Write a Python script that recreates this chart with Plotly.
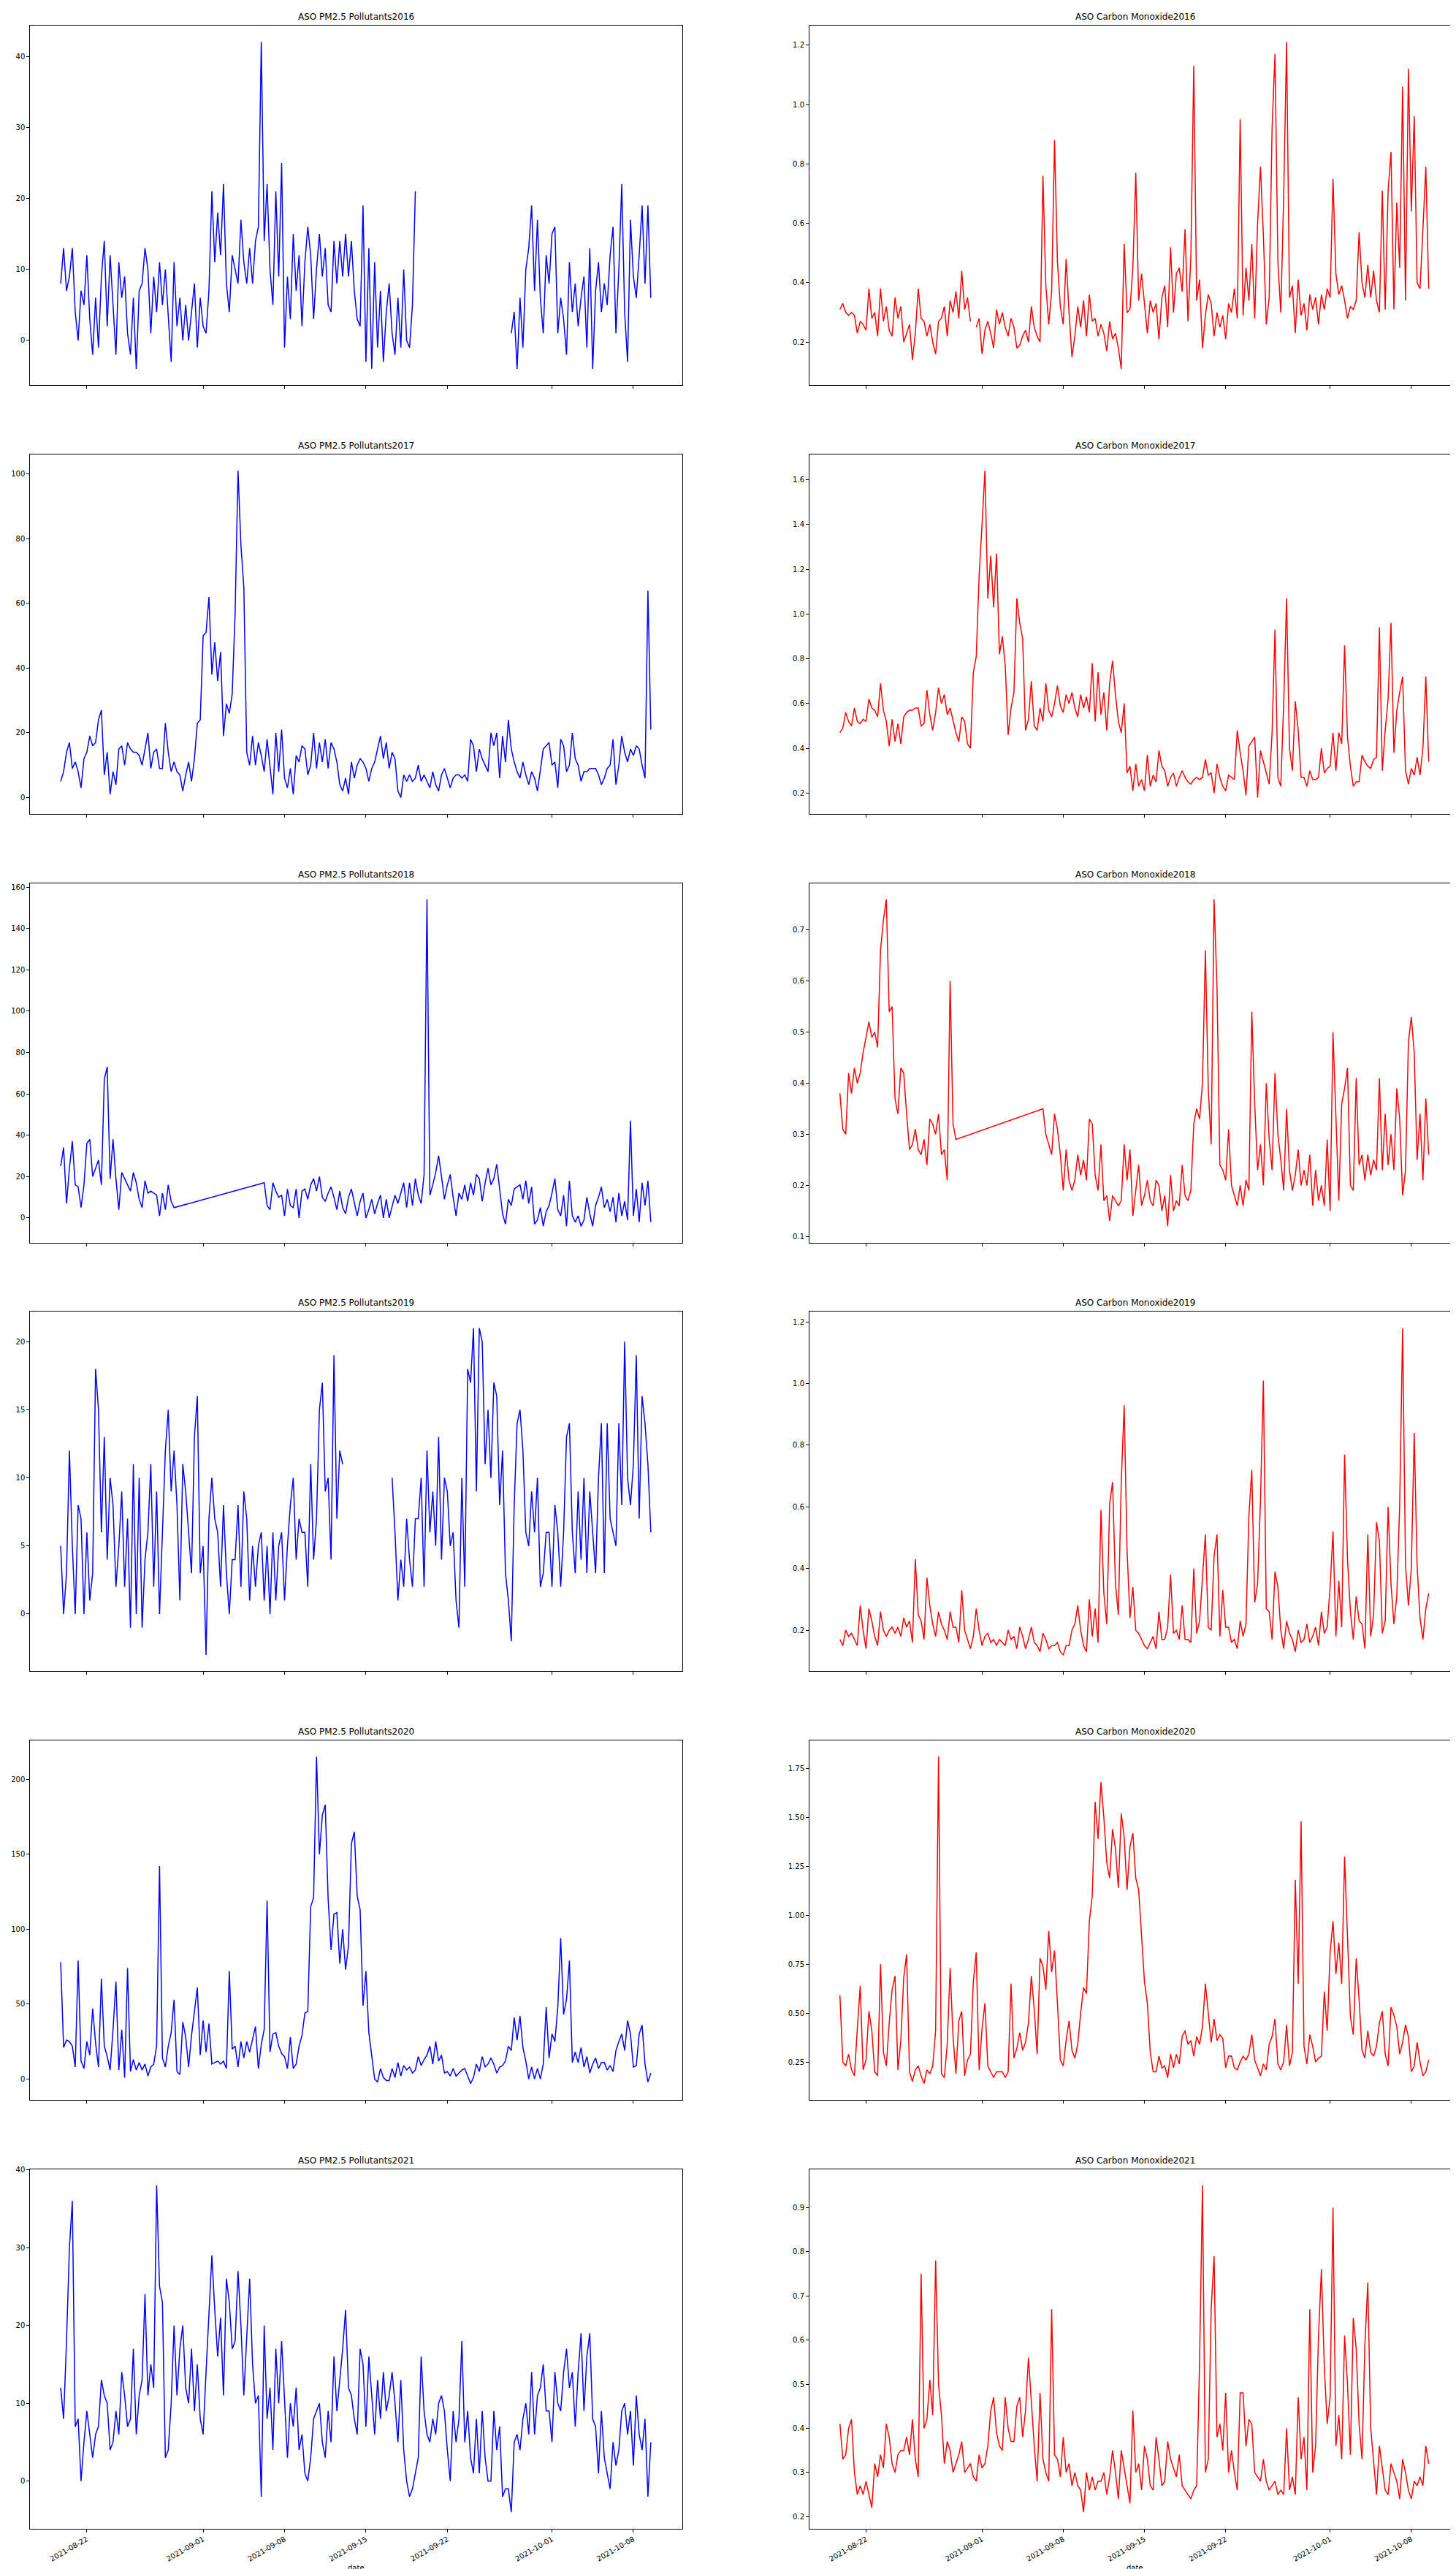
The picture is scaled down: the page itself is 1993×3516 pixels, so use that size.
import pandas as pd
import plotly.graph_objects as go

# ---------------- data (6-hourly readings, first at 2021-08-19 18:00) ----------------
START = "2021-08-19 18:00"
STEP = "6h"

pm25_2016 = [8, 13, 7, 9, 13, 4, 0, 7, 5, 12, 3, -2, 6, -1, 9, 14, 2, 12, 5, -2, 11, 6, 9, 1,
             -2, 6, -4, 7, 8, 13, 10, 1, 9, 4, 11, 5, 10, 3, -3, 11, 2, 6, 0, 5, 0, 4, 8, -1,
             6, 2, 1, 7, 21, 11, 18, 12, 22, 8, 4, 12, 10, 8, 17, 11, 8, 13, 8, 14, 16, 42, 14, 22,
             10, 5, 21, 9, 25, -1, 9, 3, 15, 7, 12, 2, 11, 16, 12, 3, 10, 15, 9, 13, 5, 4, 14, 8,
             14, 9, 15, 9, 14, 7, 3, 2, 19, -3, 13, -4, 11, -1, 7, -3, 4, 8, 1, -2, 6, -1, 10, 0,
             -1, 5, 21] + [None] * 32 + [
             1, 4, -4, 6, -1, 10, 13, 19, 7, 17, 6, 1, 12, 8, 15, 16, 1, 6, 3, -2, 11, 4, 8, 2, 6,
             9, -1, 13, -4, 7, 11, 4, 8, 5, 12, 16, 1, 10, 22, 4, -3, 17, 9, 6, 12, 19, 8, 19, 6]

co_2016 = [0.31, 0.33, 0.30, 0.29, 0.30, 0.29, 0.23, 0.27, 0.26, 0.24, 0.38, 0.28,
           0.30, 0.22, 0.38, 0.27, 0.32, 0.24, 0.22, 0.35, 0.28, 0.32, 0.20, 0.23,
           0.26, 0.14, 0.23, 0.38, 0.28, 0.27, 0.22, 0.26, 0.20, 0.16, 0.27, 0.28,
           0.32, 0.22, 0.34, 0.30, 0.37, 0.28, 0.44, 0.31, 0.35, 0.27, None, 0.25,
           0.28, 0.16, 0.24, 0.27, 0.23, 0.18, 0.31, 0.26, 0.30, 0.25, 0.22, 0.28,
           0.25, 0.18, 0.19, 0.22, 0.24, 0.20, 0.32, 0.25, 0.22, 0.20, 0.76, 0.39,
           0.26, 0.37, 0.88, 0.47, 0.32, 0.26, 0.48, 0.30, 0.15, 0.22, 0.32, 0.25,
           0.34, 0.22, 0.36, 0.27, 0.28, 0.22, 0.26, 0.23, 0.17, 0.27, 0.21, 0.23,
           0.18, 0.11, 0.53, 0.30, 0.31, 0.45, 0.77, 0.34, 0.43, 0.33, 0.23, 0.34,
           0.30, 0.33, 0.21, 0.35, 0.39, 0.25, 0.52, 0.30, 0.43, 0.45, 0.37, 0.58,
           0.27, 0.49, 1.13, 0.34, 0.41, 0.18, 0.29, 0.36, 0.33, 0.22, 0.30, 0.25,
           0.29, 0.21, 0.33, 0.30, 0.38, 0.28, 0.95, 0.29, 0.45, 0.34, 0.53, 0.28,
           0.60, 0.79, 0.56, 0.26, 0.35, 0.92, 1.17, 0.47, 0.30, 0.69, 1.21, 0.35,
           0.39, 0.23, 0.41, 0.29, 0.33, 0.24, 0.36, 0.31, 0.35, 0.26, 0.36, 0.31,
           0.38, 0.35, 0.75, 0.43, 0.36, 0.39, 0.34, 0.28, 0.32, 0.31, 0.34, 0.57,
           0.40, 0.35, 0.46, 0.35, 0.44, 0.34, 0.30, 0.71, 0.31, 0.71, 0.84, 0.31,
           0.67, 0.45, 1.06, 0.34, 1.12, 0.64, 0.96, 0.40, 0.38, 0.58, 0.79, 0.38]

pm25_2017 = [5, 8, 14, 17, 9, 11, 8, 3, 12, 14, 19, 16, 17, 24, 27, 7, 14, 1, 8, 4, 15, 16, 10, 17,
             15, 14, 14, 13, 10, 15, 20, 9, 14, 15, 9, 9, 23, 14, 8, 11, 8, 7, 2, 7, 11, 5, 12, 23,
             24, 50, 51, 62, 38, 48, 36, 45, 19, 29, 26, 32, 57, 101, 78, 65, 14, 10, 19, 10,
             17, 13, 8, 18, 9, 1, 20, 8, 21, 6, 3, 9, 1, 13, 11, 16, 15, 7, 10, 20, 9, 17, 11, 18,
             9, 17, 15, 11, 4, 2, 6, 1, 11, 6, 10, 12, 11, 9, 5, 9, 11, 15, 19, 12, 17, 9, 14, 12,
             2, 0, 7, 5, 7, 5, 6, 10, 5, 7, 5, 3, 8, 4, 2, 7, 9, 6, 3, 6, 7, 7, 6, 7, 5, 18, 16, 8,
             15, 12, 10, 8, 20, 16, 20, 6, 19, 11, 24, 15, 11, 8, 6, 11, 7, 4, 8, 6, 2, 8, 15, 16,
             17, 10, 11, 3, 18, 16, 8, 10, 20, 12, 10, 5, 8, 8, 9, 9, 9, 7, 4, 6, 9, 10, 18, 4,
             10, 19, 14, 11, 15, 13, 16, 15, 10, 6, 64, 21]

co_2017 = [0.47, 0.49, 0.56, 0.52, 0.50, 0.58, 0.52, 0.51, 0.53, 0.52, 0.62, 0.58,
           0.57, 0.54, 0.69, 0.57, 0.52, 0.41, 0.53, 0.43, 0.51, 0.42, 0.54, 0.56,
           0.57, 0.57, 0.58, 0.58, 0.50, 0.51, 0.66, 0.55, 0.48, 0.56, 0.67, 0.60,
           0.64, 0.55, 0.58, 0.52, 0.47, 0.43, 0.54, 0.52, 0.42, 0.40, 0.74, 0.81,
           1.17, 1.40, 1.64, 1.07, 1.26, 1.03, 1.27, 0.82, 0.90, 0.77, 0.46, 0.58,
           0.65, 1.07, 0.96, 0.89, 0.48, 0.53, 0.70, 0.50, 0.48, 0.58, 0.52, 0.69,
           0.57, 0.54, 0.60, 0.68, 0.59, 0.56, 0.64, 0.60, 0.65, 0.58, 0.54, 0.64,
           0.58, 0.63, 0.56, 0.78, 0.52, 0.74, 0.55, 0.65, 0.48, 0.69, 0.79, 0.64,
           0.52, 0.47, 0.60, 0.29, 0.32, 0.21, 0.33, 0.23, 0.26, 0.21, 0.37, 0.23,
           0.28, 0.25, 0.39, 0.32, 0.30, 0.23, 0.27, 0.29, 0.23, 0.27, 0.30, 0.27,
           0.25, 0.24, 0.26, 0.27, 0.26, 0.27, 0.35, 0.28, 0.29, 0.20, 0.33, 0.27,
           0.23, 0.21, 0.28, 0.27, 0.26, 0.48, 0.38, 0.30, 0.19, 0.41, 0.43, 0.45,
           0.18, 0.39, 0.34, 0.29, 0.24, 0.47, 0.93, 0.27, 0.23, 0.60, 1.07, 0.40,
           0.30, 0.61, 0.48, 0.27, 0.27, 0.23, 0.30, 0.26, 0.26, 0.27, 0.40, 0.29,
           0.31, 0.32, 0.47, 0.30, 0.47, 0.42, 0.86, 0.45, 0.32, 0.23, 0.25, 0.25,
           0.37, 0.34, 0.32, 0.31, 0.35, 0.36, 0.94, 0.30, 0.48, 0.62, 0.96, 0.38,
           0.57, 0.65, 0.72, 0.30, 0.24, 0.31, 0.28, 0.36, 0.28, 0.40, 0.72, 0.34]

pm25_2018 = [25, 34, 7, 24, 37, 16, 15, 5, 16, 36, 38, 20, 24, 28, 16, 67, 73, 19, 38, 19,
             4, 22, 19, 16, 13, 22, 17, 9, 5, 18, 12, 13, 12, 11, 1, 12, 4, 16, 8, 5] + [None] * 30 + [
             17, 6, 4, 17, 13, 10, 11, 1, 14, 6, 5, 14, 0, 13, 14, 9, 16, 19, 13, 20, 10, 8,
             12, 15, 10, 4, 13, 5, 2, 10, 14, 7, 1, 8, 12, 0, 4, 9, 2, 7, 11, 0, 9, 0, 6, 11,
             7, 12, 17, 5, 17, 6, 19, 11, 7, 21, 154, 11, 16, 22, 30, 20, 9, 16, 21, 10,
             1, 12, 9, 16, 8, 17, 11, 21, 19, 8, 17, 24, 16, 19, 26, 14, 2, -3, 9, 6,
             14, 15, 16, 9, 18, 7, 15, -3, -1, 5, -4, 3, 6, 12, 19, 4, 1, 11, -4, 18,
             1, -2, 1, -4, -1, 10, 2, -4, 6, 10, 15, 5, 9, 3, 10, -2, 12, 1, 8, -1,
             47, 1, 14, -2, 17, 6, 18, -2]

co_2018 = [0.38, 0.31, 0.30, 0.42, 0.38, 0.43, 0.40, 0.42, 0.46, 0.49, 0.52, 0.49,
           0.50, 0.47, 0.66, 0.72, 0.76, 0.54, 0.55, 0.37, 0.34, 0.43, 0.42, 0.34,
           0.27, 0.28, 0.31, 0.27, 0.26, 0.29, 0.24, 0.33, 0.32, 0.30, 0.34, 0.26,
           0.27, 0.21, 0.60, 0.32, 0.29] + [None] * 29 + [
           0.35, 0.30, 0.28, 0.26, 0.34, 0.31, 0.26, 0.19, 0.27, 0.21, 0.19, 0.21, 0.26, 0.22,
           0.25, 0.21, 0.33, 0.32, 0.22, 0.19, 0.28, 0.17, 0.18, 0.13, 0.18, 0.17,
           0.16, 0.17, 0.28, 0.21, 0.27, 0.14, 0.19, 0.24, 0.16, 0.18, 0.21, 0.17,
           0.16, 0.21, 0.20, 0.15, 0.18, 0.12, 0.22, 0.15, 0.17, 0.16, 0.24, 0.18,
           0.17, 0.19, 0.32, 0.35, 0.33, 0.40, 0.66, 0.39, 0.28, 0.76, 0.59, 0.24,
           0.23, 0.21, 0.31, 0.20, 0.18, 0.16, 0.20, 0.16, 0.21, 0.19, 0.54, 0.36,
           0.23, 0.28, 0.20, 0.40, 0.29, 0.23, 0.42, 0.30, 0.25, 0.19, 0.35, 0.23,
           0.19, 0.22, 0.27, 0.20, 0.23, 0.20, 0.26, 0.16, 0.23, 0.17, 0.20, 0.16,
           0.29, 0.15, 0.50, 0.32, 0.17, 0.36, 0.39, 0.43, 0.20, 0.19, 0.41, 0.24,
           0.26, 0.21, 0.26, 0.22, 0.25, 0.23, 0.41, 0.23, 0.34, 0.24, 0.30, 0.23,
           0.39, 0.33, 0.18, 0.23, 0.48, 0.53, 0.46, 0.25, 0.34, 0.21, 0.37, 0.26]

pm25_2019 = [5, 0, 3, 12, 5, 0, 8, 7, 0, 6, 1, 3, 18, 15, 6, 13, 4, 10, 8, 2, 5, 9, 2, 7,
             -1, 11, 0, 10, -1, 4, 6, 11, 2, 9, 0, 6, 12, 15, 9, 12, 8, 1, 11, 9, 6, 3, 13, 16,
             3, 5, -3, 7, 10, 7, 6, 2, 8, 3, 0, 4, 4, 8, 2, 9, 7, 1, 5, 2, 5, 6, 1, 5,
             0, 6, 1, 5, 6, 1, 5, 8, 10, 4, 7, 6, 6, 2, 11, 4, 7, 15, 17, 9, 10, 4, 19, 7,
             12, 11] + [None] * 16 + [
             10, 6, 1, 4, 2, 7, 4, 2, 7, 7, 10, 2, 12, 6, 9, 5, 13, 4, 10, 9, 5, 6,
             1, -1, 10, 2, 18, 17, 21, 9, 21, 20, 11, 15, 10, 17, 16, 8, 12, 3, 1, -2,
             8, 14, 15, 12, 6, 5, 9, 6, 10, 2, 3, 6, 6, 2, 8, 6, 2, 6, 13, 14,
             6, 3, 9, 4, 10, 3, 9, 6, 3, 10, 14, 3, 14, 7, 6, 5, 14, 8, 20, 10,
             8, 11, 19, 7, 16, 14, 11, 6]

co_2019 = [0.17, 0.15, 0.20, 0.18, 0.19, 0.17, 0.15, 0.28, 0.20, 0.14, 0.27, 0.23,
           0.18, 0.15, 0.26, 0.20, 0.18, 0.20, 0.21, 0.19, 0.21, 0.18, 0.24, 0.21,
           0.23, 0.16, 0.43, 0.25, 0.23, 0.17, 0.37, 0.28, 0.22, 0.18, 0.26, 0.22,
           0.20, 0.17, 0.26, 0.21, 0.21, 0.16, 0.33, 0.20, 0.17, 0.14, 0.18, 0.27,
           0.20, 0.15, 0.18, 0.19, 0.16, 0.17, 0.15, 0.17, 0.16, 0.15, 0.20, 0.17,
           0.18, 0.14, 0.21, 0.18, 0.14, 0.17, 0.21, 0.16, 0.15, 0.13, 0.19, 0.17,
           0.14, 0.15, 0.15, 0.16, 0.13, 0.12, 0.15, 0.15, 0.20, 0.22, 0.28, 0.20,
           0.15, 0.13, 0.30, 0.18, 0.27, 0.16, 0.59, 0.32, 0.22, 0.61, 0.68, 0.35,
           0.25, 0.68, 0.93, 0.46, 0.24, 0.34, 0.20, 0.19, 0.17, 0.15, 0.14, 0.16,
           0.18, 0.14, 0.26, 0.17, 0.17, 0.21, 0.38, 0.19, 0.20, 0.17, 0.28, 0.17,
           0.17, 0.16, 0.40, 0.19, 0.23, 0.37, 0.51, 0.21, 0.20, 0.44, 0.51, 0.18,
           0.33, 0.21, 0.21, 0.16, 0.17, 0.14, 0.23, 0.18, 0.22, 0.57, 0.72, 0.29,
           0.35, 0.62, 1.01, 0.27, 0.26, 0.17, 0.39, 0.34, 0.20, 0.14, 0.23, 0.19,
           0.17, 0.13, 0.20, 0.16, 0.17, 0.22, 0.16, 0.18, 0.21, 0.15, 0.26, 0.19,
           0.21, 0.34, 0.52, 0.18, 0.36, 0.21, 0.77, 0.43, 0.26, 0.17, 0.31, 0.23,
           0.22, 0.14, 0.51, 0.18, 0.25, 0.55, 0.49, 0.19, 0.23, 0.60, 0.35, 0.22,
           0.31, 0.61, 1.18, 0.41, 0.28, 0.40, 0.84, 0.41, 0.24, 0.17, 0.27, 0.32]

pm25_2020 = [78, 21, 26, 25, 22, 8, 79, 12, 7, 25, 16, 47, 24, 8, 67, 22, 15, 6, 33, 65,
             6, 33, 1, 74, 5, 13, 6, 11, 6, 10, 2, 8, 10, 22, 142, 14, 8, 22, 31, 53,
             5, 3, 38, 28, 8, 29, 45, 61, 16, 39, 18, 37, 10, 11, 12, 10, 12, 7, 72, 20,
             22, 8, 25, 14, 25, 18, 26, 35, 7, 23, 33, 119, 18, 30, 31, 22, 17, 15, 7, 28,
             7, 10, 22, 29, 44, 45, 115, 121, 215, 150, 176, 183, 120, 86, 110, 111,
             77, 100, 73, 89, 157, 165, 122, 113, 49, 72, 31, 15, 0, -2, 7, 1, -1, -1, 7, 1,
             11, 2, 9, 6, 8, 4, 6, 15, 9, 13, 16, 22, 10, 25, 12, 16, 4, 5, 2, 7, 2, 4, 6, 7,
             2, -3, 1, 10, 5, 15, 8, 10, 14, 10, 4, 8, 9, 12, 22, 19, 41, 26, 42, 21,
             12, 0, 8, 0, 7, 0, 10, 48, 14, 30, 25, 48, 94, 43, 53, 79, 11, 18, 11, 21,
             8, 15, 4, 10, 14, 7, 11, 11, 6, 9, 5, 19, 25, 30, 19, 39, 30, 8, 9, 30,
             36, 10, -2, 4]

co_2020 = [0.59, 0.25, 0.23, 0.29, 0.21, 0.18, 0.42, 0.64, 0.21, 0.26, 0.51, 0.41,
           0.20, 0.18, 0.75, 0.30, 0.23, 0.45, 0.62, 0.69, 0.21, 0.36, 0.68, 0.80,
           0.20, 0.15, 0.21, 0.23, 0.18, 0.14, 0.21, 0.19, 0.23, 0.41, 1.81, 0.19,
           0.17, 0.34, 0.73, 0.38, 0.19, 0.46, 0.51, 0.18, 0.26, 0.29, 0.66, 0.81,
           0.21, 0.42, 0.55, 0.23, 0.20, 0.17, 0.20, 0.20, 0.20, 0.17, 0.20, 0.65,
           0.27, 0.32, 0.40, 0.31, 0.35, 0.45, 0.69, 0.52, 0.29, 0.78, 0.74, 0.62,
           0.92, 0.71, 0.82, 0.55, 0.26, 0.23, 0.36, 0.46, 0.31, 0.27, 0.34, 0.50,
           0.63, 0.60, 0.97, 1.10, 1.58, 1.39, 1.68, 1.50, 1.27, 1.19, 1.44, 1.34,
           1.14, 1.52, 1.40, 1.13, 1.35, 1.42, 1.19, 1.13, 0.90, 0.66, 0.55, 0.30,
           0.20, 0.20, 0.28, 0.22, 0.23, 0.17, 0.29, 0.22, 0.29, 0.24, 0.38, 0.41,
           0.34, 0.36, 0.28, 0.38, 0.34, 0.43, 0.65, 0.49, 0.35, 0.47, 0.36, 0.39,
           0.37, 0.22, 0.28, 0.28, 0.22, 0.21, 0.25, 0.28, 0.26, 0.29, 0.39, 0.26,
           0.22, 0.18, 0.24, 0.21, 0.34, 0.38, 0.47, 0.24, 0.21, 0.25, 0.44, 0.23,
           0.30, 1.18, 0.65, 1.48, 0.33, 0.24, 0.39, 0.33, 0.25, 0.27, 0.28, 0.61,
           0.41, 0.81, 0.97, 0.70, 0.86, 0.65, 1.30, 0.87, 0.48, 0.39, 0.78, 0.57,
           0.31, 0.27, 0.41, 0.30, 0.28, 0.33, 0.45, 0.51, 0.29, 0.23, 0.53, 0.49,
           0.43, 0.29, 0.35, 0.44, 0.38, 0.20, 0.23, 0.35, 0.25, 0.18, 0.20, 0.26]

pm25_2021 = [12, 8, 18, 30, 36, 7, 8, 0, 5, 9, 6, 3, 6, 7, 13, 11, 10, 4, 5, 9, 6, 14, 11, 7,
             8, 17, 6, 11, 13, 24, 11, 15, 12, 38, 25, 23, 3, 4, 10, 20, 11, 17, 20, 12,
             10, 17, 9, 15, 8, 6, 14, 21, 29, 22, 16, 21, 11, 26, 23, 17, 18, 27, 20, 11,
             18, 26, 15, 10, 11, -2, 20, 8, 12, 4, 17, 10, 18, 10, 3, 10, 7, 12, 4, 6,
             1, 0, 3, 8, 9, 10, 5, 3, 9, 5, 16, 9, 13, 17, 22, 12, 11, 8, 6, 17, 15, 7, 16, 11,
             6, 13, 8, 14, 9, 11, 14, 10, 5, 13, 4, 0, -2, -1, 1, 3, 16, 9, 6, 5, 8, 6, 10, 11,
             9, 4, 0, 9, 5, 8, 18, 5, 9, 3, 1, 8, 1, 9, 3, 0, 0, 9, 4, 7, -2, -1, -1, -4,
             5, 6, 4, 8, 10, 6, 14, 6, 11, 12, 15, 9, 9, 5, 14, 10, 9, 14, 17, 12,
             14, 7, 14, 19, 9, 16, 19, 8, 7, 1, 9, 3, 1, -1, 5, 2, 4, 9, 10, 6,
             9, 2, 11, 6, 4, 8, -2, 5]

co_2021 = [0.41, 0.33, 0.34, 0.40, 0.42, 0.30, 0.25, 0.27, 0.25, 0.28, 0.25, 0.22,
           0.32, 0.29, 0.34, 0.31, 0.41, 0.38, 0.32, 0.30, 0.34, 0.35, 0.35, 0.38,
           0.34, 0.42, 0.33, 0.29, 0.75, 0.40, 0.42, 0.51, 0.43, 0.78, 0.50, 0.43,
           0.32, 0.37, 0.35, 0.30, 0.32, 0.34, 0.37, 0.30, 0.31, 0.32, 0.29, 0.28,
           0.34, 0.31, 0.32, 0.36, 0.44, 0.47, 0.39, 0.36, 0.35, 0.47, 0.40, 0.37,
           0.37, 0.45, 0.47, 0.38, 0.44, 0.56, 0.46, 0.36, 0.28, 0.48, 0.33, 0.30,
           0.28, 0.67, 0.34, 0.33, 0.29, 0.38, 0.30, 0.32, 0.27, 0.30, 0.27, 0.26,
           0.21, 0.30, 0.26, 0.29, 0.26, 0.28, 0.28, 0.30, 0.25, 0.29, 0.35, 0.30,
           0.24, 0.35, 0.31, 0.27, 0.23, 0.44, 0.30, 0.32, 0.26, 0.36, 0.33, 0.27,
           0.26, 0.38, 0.33, 0.27, 0.28, 0.37, 0.33, 0.31, 0.29, 0.34, 0.27, 0.26,
           0.25, 0.24, 0.26, 0.27, 0.55, 0.95, 0.30, 0.33, 0.67, 0.79, 0.38, 0.41,
           0.35, 0.48, 0.30, 0.35, 0.30, 0.26, 0.48, 0.48, 0.36, 0.42, 0.41, 0.30,
           0.29, 0.28, 0.33, 0.28, 0.26, 0.27, 0.28, 0.25, 0.26, 0.25, 0.40, 0.26,
           0.29, 0.25, 0.47, 0.33, 0.38, 0.26, 0.67, 0.30, 0.36, 0.61, 0.76, 0.54,
           0.41, 0.47, 0.90, 0.36, 0.43, 0.33, 0.61, 0.50, 0.34, 0.65, 0.58, 0.41,
           0.33, 0.59, 0.73, 0.40, 0.33, 0.25, 0.36, 0.31, 0.26, 0.25, 0.32, 0.30,
           0.28, 0.24, 0.33, 0.30, 0.26, 0.24, 0.28, 0.27, 0.29, 0.27, 0.36, 0.32]

years = [2016, 2017, 2018, 2019, 2020, 2021]
pm_series = [pm25_2016, pm25_2017, pm25_2018, pm25_2019, pm25_2020, pm25_2021]
co_series = [co_2016, co_2017, co_2018, co_2019, co_2020, co_2021]
pm_dticks = [10, 20, 20, 5, 50, 10]
co_dticks = [0.2, 0.2, 0.1, 0.2, 0.25, 0.1]
co_formats = [".1f", ".1f", ".1f", ".1f", ".2f", ".1f"]
tick_dates = ["2021-08-22", "2021-09-01", "2021-09-08", "2021-09-15",
              "2021-09-22", "2021-10-01", "2021-10-08"]
x_range = ["2021-08-17 03:00", "2021-10-12 05:30"]

# ---------------- layout geometry (pixels) ----------------
W, H = 1993, 3516
col_x = [(33.3, 926.3), (1100.0, 1991.0)]
row_top0, row_step, row_h = 23.3, 587.35, 492.5

fig = go.Figure()
annotations = []
panels = []
for r, yr in enumerate(years):
    panels.append((r, 0, pm_series[r], "blue", f"ASO PM2.5 Pollutants{yr}", pm_dticks[r], None, yr))
    panels.append((r, 1, co_series[r], "red", f"ASO Carbon Monoxide{yr}", co_dticks[r], co_formats[r], yr))

for i, (r, c, vals, color, title, dtick, fmt, yr) in enumerate(panels):
    n = i + 1
    xa = "x" if n == 1 else f"x{n}"
    ya = "y" if n == 1 else f"y{n}"
    times = pd.date_range(START, periods=len(vals), freq=STEP)
    fig.add_trace(go.Scatter(
        x=times, y=vals, mode="lines",
        line=dict(color=color, width=1.5),
        connectgaps=(yr == 2018),
        xaxis=xa, yaxis=ya, showlegend=False, hoverinfo="skip"))

    good = [v for v in vals if v is not None]
    lo, hi = min(good), max(good)
    pad = 0.05 * (hi - lo)

    x0, x1 = col_x[c]
    top = row_top0 + r * row_step
    dom_x = [x0 / W, x1 / W]
    dom_y = [1 - (top + row_h) / H, 1 - top / H]
    bottom_row = (r == len(years) - 1)

    xkey = "xaxis" if n == 1 else f"xaxis{n}"
    ykey = "yaxis" if n == 1 else f"yaxis{n}"
    fig.layout[xkey] = dict(
        domain=dom_x, anchor=ya, type="date", range=x_range,
        tickmode="array", tickvals=tick_dates, ticktext=tick_dates,
        showticklabels=bottom_row, tickangle=-30,
        ticks="outside", ticklen=4, tickwidth=1, tickcolor="black",
        showline=True, mirror=True, linecolor="black", linewidth=1,
        showgrid=False, zeroline=False,
        tickfont=dict(size=10, color="black"))
    yax = dict(
        domain=dom_y, anchor=xa, range=[lo - pad, hi + pad],
        tick0=0, dtick=dtick,
        ticks="outside", ticklen=4, tickwidth=1, tickcolor="black",
        showline=True, mirror=True, linecolor="black", linewidth=1,
        showgrid=False, zeroline=False,
        tickfont=dict(size=10, color="black"))
    if fmt:
        yax["tickformat"] = fmt
    fig.layout[ykey] = yax

    annotations.append(dict(
        text=title, xref="paper", yref="paper",
        x=(x0 + x1) / 2 / W, y=1 - top / H,
        xanchor="center", yanchor="bottom", yshift=3, showarrow=False,
        font=dict(size=12, color="black")))
    if bottom_row:
        annotations.append(dict(
            text="date", xref="paper", yref="paper",
            x=(x0 + x1) / 2 / W, y=1 - 3506 / H,
            xanchor="center", yanchor="middle", showarrow=False,
            font=dict(size=10, color="black")))

fig.update_layout(
    width=W, height=H,
    margin=dict(l=0, r=0, t=0, b=0),
    paper_bgcolor="white", plot_bgcolor="white",
    font=dict(family="DejaVu Sans", size=10, color="black"),
    annotations=annotations,
    showlegend=False,
)

fig.write_html("out.html")
